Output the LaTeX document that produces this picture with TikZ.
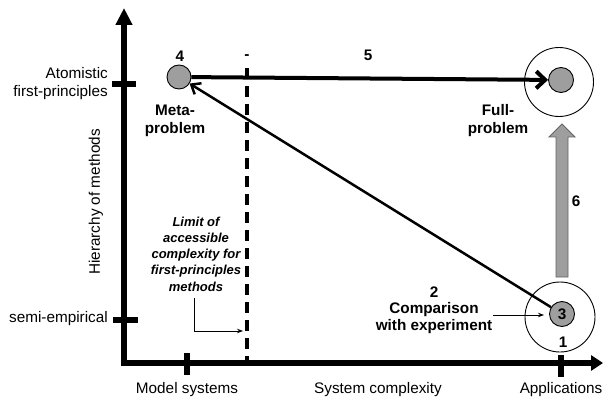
\documentclass[tikz,border=0pt]{standalone}
\usepackage{fontspec}
\setmainfont{Liberation Sans}
\usetikzlibrary{arrows.meta,calc}
\definecolor{ngray}{RGB}{158,158,158}
\definecolor{ogray}{RGB}{100,100,100}
\begin{document}
\begin{tikzpicture}[x=1pt,y=-1pt,
  every node/.style={font=\fontsize{15.3}{18}\selectfont, inner sep=0pt},
  lbl/.style={font=\fontsize{15.3}{18}\selectfont\bfseries, align=center},
  axis/.style={line width=5.5pt},
  tick/.style={line width=5.5pt},
  dot/.style={circle, draw=black, line width=0.9pt, fill=ngray, minimum size=24pt, inner sep=0pt},
  ring/.style={circle, draw=black, line width=0.9pt, minimum size=69pt, inner sep=0pt},
  thinarrow/.style={line width=1pt, -{Stealth[length=6pt,width=4.5pt]}},
]
\path[use as bounding box] (0,0) rectangle (604,398);

% axes
\coordinate (O) at (124,363);
\coordinate (ytip) at (124,8);
\coordinate (xtip) at (603,363);
\draw[axis, line join=miter, {Triangle[length=17pt,width=16pt]}-{Triangle[length=12pt,width=15pt]}] (ytip) -- (O) -- (xtip);

% ticks
\draw[tick] (112,84) -- (136,84);
\draw[tick] (113,320) -- (138,320);
\draw[tick] (187,353) -- (187,375);
\draw[tick] (561,355) -- (561,377);

% dashed limit
\coordinate (dtop) at (247,68);
\coordinate (dbot) at (247,363);
\draw[line width=3.8pt, dash pattern=on 11pt off 7pt] (dtop) -- (dbot);
\node[lbl] (dash) at (247,57) {-};

% axis labels
\node[anchor=east, align=right] (atom) at (108,84) {Atomistic\\first-principles};
\node[anchor=east] (semi) at (108,319) {semi-empirical};
\node[rotate=90] (hier) at (96,202) {Hierarchy of methods};
\node (model) at (187,390) {Model systems};
\node (syscx) at (378,390) {System complexity};
\node (appl) at (561,390) {Applications};

% circles
\node[dot] (n4) at (179,77) {};
\node[lbl] (l4) at (180,56) {4};
\node[lbl] (meta) at (175,121) {Meta-\\problem};

\node[ring] (fout) at (559,82) {};
\node[dot, minimum size=25pt] (fin) at (561,80) {};
\node[lbl] (full) at (498,121) {Full-\\problem};

\node[ring, minimum size=70pt] (aout) at (560,317) {};
\node[dot, minimum size=25pt, font=\fontsize{15.3}{18}\selectfont\bfseries] (ain) at (562,314) {3};
\node[lbl] (l1) at (563,342) {1};

% arrow 5
\draw[line width=4pt, -{Straight Barb[length=9pt,width=17pt]}] (n4) -- (fin);
\node[lbl] (l5) at (368,55) {5};

% diagonal arrow
\draw[line width=2.5pt, -{Straight Barb[length=8pt,width=13pt]}] (ain) -- (n4);

% gray block arrow 6
\draw[fill=ngray, draw=ogray, line width=0.9pt]
  (556,277) -- (556,137) -- (549,137) -- (562,124) -- (575,137) -- (568,137) -- (568,277) -- cycle;
\node[lbl] (l6) at (576,201) {6};

% comparison
\node[lbl] (l2) at (434,292) {2};
\node[lbl, font=\fontsize{15.3}{17}\selectfont\bfseries] (comp) at (434,318) {Comparison\\with experiment};
\coordinate (cstart) at (493,315);
\coordinate (cend) at (544,315);
\draw[thinarrow] (cstart) -- (cend);

% limit text
\node[align=center, font=\fontsize{13}{16.3}\selectfont\bfseries\itshape] (limit) at (196,254)
  {Limit of\\accessible\\complexity for\\first-principles\\methods};
\coordinate (bstart) at (194,298);
\coordinate (bend) at (243,331);
\draw[thinarrow] (bstart) |- (bend);
\end{tikzpicture}
\end{document}
